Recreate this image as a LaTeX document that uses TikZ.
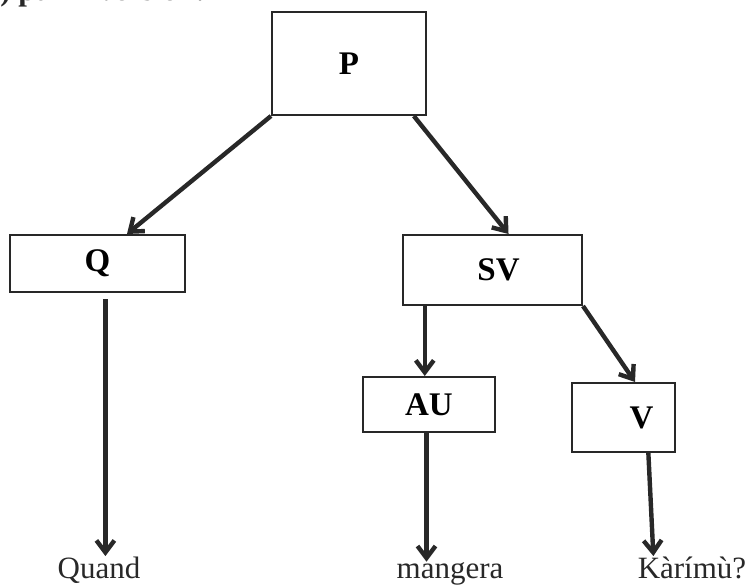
\documentclass[tikz,border=0pt]{standalone}
\usepackage{fontspec}
\setmainfont{Liberation Serif}
\usetikzlibrary{arrows.meta,calc}
\definecolor{ink}{RGB}{40,40,40}
\begin{document}
\begin{tikzpicture}[x=0.5pt,y=-0.5pt,
    catbox/.style={draw=ink,line width=1pt,font=\fontsize{16.5}{18}\selectfont\bfseries,inner sep=0pt},
    word/.style={font=\fontsize{15.5}{18}\selectfont,text=ink,inner sep=0pt,anchor=base},
    arr/.style={draw=ink,line width=2.2pt,-{Straight Barb[length=6pt,width=9pt]}}]

  \useasboundingbox (0,0) rectangle (751,585);
  \clip (0,0) rectangle (751,585);

  \node[word,font=\fontsize{15.5}{18}\selectfont\bfseries,anchor=base west] (head) at (0,0) {) par inversion:};

  \begin{scope}[every node/.style={catbox}]
    \node[minimum width=77pt,minimum height=51.5pt] (P)  at (349,63.5)  {P};
    \node[minimum width=87.5pt,minimum height=28.5pt] (Q)  at (97.5,263.5) {Q};
    \node[minimum width=89.5pt,minimum height=35pt]  (SV) at (492.5,270) {\hspace*{6pt}SV};
    \node[minimum width=66pt,minimum height=27.5pt]  (AU) at (429,404.5) {AU};
    \node[minimum width=51.5pt,minimum height=34.5pt] (V)  at (623.5,417.5) {\hspace*{18pt}V};
  \end{scope}

  \begin{scope}[every node/.style={word}]
    \node (quand)   at (99,578)  {Quand};
    \node (mangera) at (450,578) {mangera};
    \node (karimu)  at (692,578) {Kàrímù?};
  \end{scope}

  \begin{scope}[every edge/.style={arr}]
    \path (P.south west) edge (Q.45);
    \path (P.-39)        edge (SV.66);
    \path (SV.-152)      edge (SV.-152 |- AU.north);
    \path (SV.south east) edge (V.72);
    \path (Q.-75)        edge[shorten <=3pt] (Q.-75 |- quand.north);
    \path (AU.-95)       edge (AU.-95 |- mangera.north);
    \path (V.-55)        edge ($(karimu.north west)+(16,0)$);
  \end{scope}

\end{tikzpicture}
\end{document}
